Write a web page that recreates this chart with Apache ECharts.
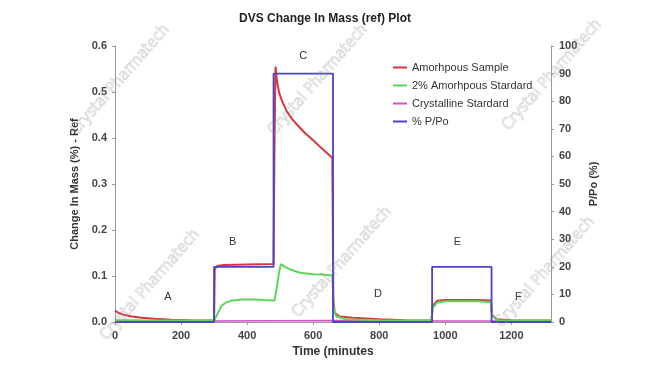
<!DOCTYPE html>
<html><head><meta charset="utf-8">
<script src="https://cdn.jsdelivr.net/npm/echarts@6/dist/echarts.min.js"></script>
<style>html,body{margin:0;padding:0;background:#fff}#c{width:650px;height:365px}</style>
</head><body><div id="c"></div>
<script>
// ---- data (time in minutes, mass change in %, P/Po in %) ----
const amorphousSample = [[0,0.025],[10,0.02],[25,0.016],[50,0.012],[80,0.009],[120,0.007],[170,0.005],[230,0.004],[300,0.003],[302,0.115],[310,0.122],[330,0.124],[400,0.125],[480,0.126],[483,0.4],[486,0.555],[490,0.525],[497,0.498],[507,0.478],[520,0.458],[535,0.442],[550,0.43],[575,0.411],[600,0.395],[625,0.378],[650,0.362],[658,0.357],[661,0.05],[665,0.02],[680,0.012],[720,0.009],[800,0.006],[880,0.004],[958,0.003],[962,0.035],[975,0.046],[1000,0.048],[1100,0.048],[1138,0.047],[1142,0.015],[1155,0.006],[1200,0.004],[1320,0.003]];
const amorphousStandard = [[0,0.004],[100,0.003],[300,0.003],[305,0.004],[312,0.02],[322,0.035],[335,0.042],[350,0.046],[385,0.049],[420,0.049],[450,0.048],[483,0.047],[490,0.075],[497,0.11],[503,0.126],[510,0.122],[525,0.116],[540,0.112],[560,0.107],[600,0.104],[630,0.103],[658,0.101],[662,0.03],[670,0.012],[700,0.006],[800,0.004],[958,0.003],[962,0.03],[975,0.042],[1000,0.045],[1100,0.045],[1138,0.043],[1142,0.012],[1160,0.004],[1320,0.003]];
const crystallineStandard = [[0,0.003],[300,0.002],[660,0.003],[960,0.002],[1320,0.002]];
const pPo = [[0,0],[300,0],[300,20],[480,20],[480,90],[660,90],[660,0],[960,0],[960,20],[1140,20],[1140,0],[1320,0]];
const stageLabels = [['A',160,0.054],['B',356,0.174],['C',570,0.578],['D',796,0.061],['E',1037,0.174],['F',1221,0.054]];
const xTicks = [0,200,400,600,800,1000,1200];
const seriesNames = ['Amorhpous Sample','2% Amorhpous Stardard','Crystalline Stardard','% P/Po'];

const wmPos = [[120,80],[318,80],[552,75],[150,285],[342,262],[545,272]];
const chart = echarts.init(document.getElementById('c'), null, {renderer:'canvas'});
const axisLbl = {fontFamily:'Liberation Sans, Arial', fontWeight:'bold', fontSize:11, color:'#444'};
chart.setOption({
  animation:false,
  title:{text:'DVS Change In Mass (ref) Plot', left:'center', top:8, textStyle:{fontFamily:'Liberation Sans, Arial', fontWeight:'bold', fontSize:12, color:'#222'}},
  legend:{orient:'vertical', left:388, top:56, itemGap:5, itemWidth:14, itemHeight:2, icon:'rect',
    textStyle:{fontFamily:'Liberation Sans, Arial', fontSize:11, color:'#333', lineHeight:13}, data:seriesNames},
  grid:{left:115, right:99, top:46, bottom:43},
  xAxis:{type:'value', min:0, max:1320, interval:200,
    name:'Time (minutes', nameLocation:'middle', nameGap:21,
    nameTextStyle:{fontFamily:'Liberation Sans, Arial', fontWeight:'bold', fontSize:12, color:'#333'},
    axisLine:{lineStyle:{color:'#999'}}, axisTick:{lineStyle:{color:'#999'}, length:3},
    axisLabel:Object.assign({showMaxLabel:false, margin:8, formatter:v=>xTicks.includes(v)?String(v):''}, axisLbl), splitLine:{show:false}},
  yAxis:[
    {type:'value', min:0, max:0.6, interval:0.1, position:'left',
     name:'Change In Mass (%) - Ref', nameLocation:'middle', nameGap:29, nameRotate:90,
     nameTextStyle:{fontFamily:'Liberation Sans, Arial', fontWeight:'bold', fontSize:11, color:'#333'},
     axisLine:{show:true, lineStyle:{color:'#999'}}, axisTick:{show:true, lineStyle:{color:'#999'}, length:3},
     axisLabel:Object.assign({formatter:v=>v.toFixed(1), margin:8}, axisLbl), splitLine:{show:false}},
    {type:'value', min:0, max:100, interval:10, position:'right',
     name:'P/Po (%)', nameLocation:'middle', nameGap:32, nameRotate:90,
     nameTextStyle:{fontFamily:'Liberation Sans, Arial', fontWeight:'bold', fontSize:11, color:'#333'},
     axisLine:{show:true, lineStyle:{color:'#999'}}, axisTick:{show:true, lineStyle:{color:'#999'}, length:3},
     axisLabel:Object.assign({margin:8}, axisLbl), splitLine:{show:false}}
  ],
  series:[
    {name:seriesNames[0], type:'line', data:amorphousSample, yAxisIndex:0, showSymbol:false, z:3,
     lineStyle:{width:2, color:'#d8353d'}, itemStyle:{color:'#d8353d'},
     markPoint:{symbol:'circle', symbolSize:0, silent:true,
       label:{show:true, position:'inside', formatter:p=>p.name, fontFamily:'Liberation Sans, Arial', fontSize:11, color:'#333'},
       data:stageLabels.map(s=>({name:s[0], coord:[s[1],s[2]]}))}},
    {name:seriesNames[1], type:'line', data:amorphousStandard, yAxisIndex:0, showSymbol:false, z:3,
     lineStyle:{width:2, color:'#5cd65c'}, itemStyle:{color:'#5cd65c'}},
    {name:seriesNames[2], type:'line', data:crystallineStandard, yAxisIndex:0, showSymbol:false, z:2,
     lineStyle:{width:1.5, color:'#d24fc6'}, itemStyle:{color:'#d24fc6'}},
    {name:seriesNames[3], type:'line', data:pPo, yAxisIndex:1, showSymbol:false, z:4,
     lineStyle:{width:1.8, color:'#4a45c4'}, itemStyle:{color:'#4a45c4'}}
  ],
  graphic: wmPos.map(p=>({type:'text', x:p[0], y:p[1], rotation:0.85, z:100, silent:true,
    style:{text:'Crystal Pharmatech', fontFamily:'DejaVu Sans Condensed, Liberation Sans Narrow, sans-serif', fontSize:16,
      fill:'rgba(255,255,255,0)', stroke:'rgba(150,150,150,0.4)', lineWidth:0.8, align:'center', verticalAlign:'middle'}}))
});
</script></body></html>
